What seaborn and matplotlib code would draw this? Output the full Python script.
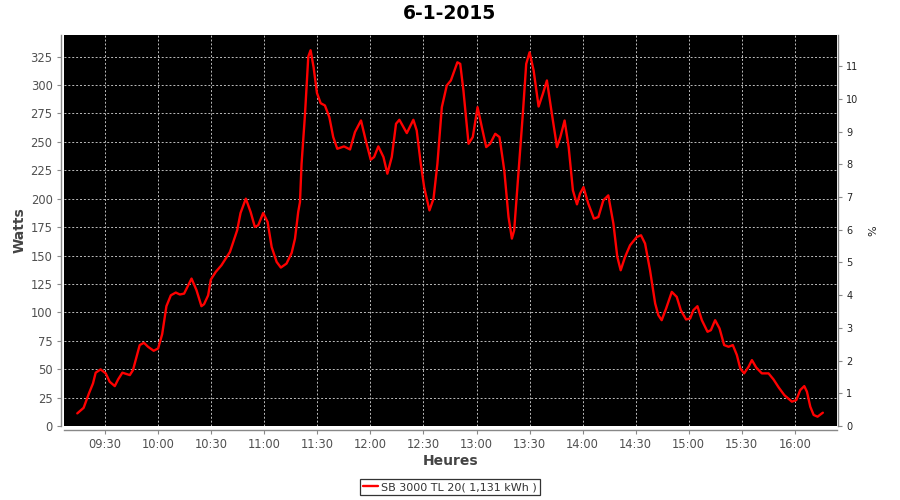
import matplotlib
matplotlib.use("Agg")
import matplotlib.pyplot as plt
import seaborn as sns
import pandas as pd

# ---- data ----
title = "6-1-2015"
series_name = "SB 3000 TL 20( 1,131 kWh )"
# minutes after 09:30
minutes = [-15.7, -12.1, -9.1, -6.8, -5.3, -2.5, 0.4, 2.6, 5.5, 7.4, 9.8, 14, 15.8, 19.6, 22, 24.3, 27.5, 30,
           32.3, 34.7, 37.2, 40, 42.3, 44.7, 48.9, 51.7, 54.5, 56, 58.3, 59.8, 62.6, 65.8, 70.6, 74.7, 76.6,
           79.6, 82.3, 84.7, 86.6, 89.4, 91.9, 94.2, 97, 99.4, 102.6, 105.5, 107.4, 109.2, 110.2, 111.1, 113,
           114.9, 116.2, 117.9, 119.8, 121.9, 124.3, 126.8, 129, 131.3, 135.1, 138.5, 141.3, 144.7, 147.4,
           150.2, 152.1, 154.5, 157.4, 159.6, 162.1, 164.5, 166.4, 170.6, 174.3, 176.2, 178.5, 180.4, 183.4,
           185.7, 187.9, 190.4, 193.2, 195.5, 199.2, 200.8, 202.6, 205.5, 207.9, 210.6, 213, 215.5, 217.7,
           220.6, 223, 225.7, 228.1, 230, 231.3, 233.8, 236.2, 238.1, 240, 242.3, 245.1, 247.5, 249.8, 252.6,
           255.5, 257.4, 259.8, 262.1, 264.5, 266.8, 268.5, 270.5, 273.2, 276.4, 278.9, 281.7, 284.5, 287.4,
           289.6, 291.5, 294, 296.8, 300.6, 303, 305.3, 308.1, 311, 312.8, 314.7, 317.2, 320.4, 323.2, 325.5,
           328.5, 330.8, 332.6, 334.9, 337.4, 340.6, 342.5, 344.9, 347.4, 350, 352.5, 354.9, 357.2, 359.1,
           361.3, 363.8, 365.7, 368.1, 371.3, 375.1, 377.9, 380.8, 384, 388.3, 390.8, 393, 395.3, 396.8,
           398.7, 400.6, 402.8, 405.8]
watts = [11.1, 16, 28.7, 37.5, 46.9, 49.8, 46.3, 39, 35.1, 41, 46.9, 44.8, 49.2, 71.2, 73.2, 69.7, 66.2, 68.2,
         80.8, 105.4, 115, 117.4, 115.7, 116.5, 129.7, 119.5, 105.4, 107.2, 115, 128.8, 135.6, 141.4, 153.1,
         172.2, 187.4, 200, 188.3, 175.1, 176.6, 187.4, 179.5, 157.5, 144.4, 139.4, 142.9, 152.3, 164.9, 188.3,
         197, 230.7, 273, 325, 330.6, 315.7, 293, 284, 282, 271.7, 254.2, 243.9, 246, 243.3, 258.6, 268.8,
         251.2, 234.3, 236.6, 246, 236.6, 222, 236.6, 265.9, 269.4, 257.7, 269.4, 260, 230.7, 210.2, 189.7,
         200, 230.7, 280.5, 299.6, 304, 320, 318.6, 295.2, 248.3, 254.2, 280.5, 263, 245.4, 248.3, 257.1,
         254.2, 224.9, 183.9, 164.9, 172.2, 224.9, 274.7, 318.6, 328.8, 312.7, 281.1, 292.2, 304, 274.7,
         245.4, 254.2, 268.8, 245.4, 207.3, 195, 204.4, 210.2, 195.6, 182.4, 183.9, 198.5, 202.9, 178, 148.8,
         137, 148.8, 159, 166.3, 167.8, 160.5, 137, 107.8, 97.5, 93.1, 103.4, 118, 113.6, 101.9, 93.7, 94.6,
         101.9, 105.4, 93.1, 82.9, 84.3, 93.1, 85.8, 71.2, 69.7, 71.2, 62.4, 50.7, 46.3, 52.1, 58, 51.5, 46.3,
         46.3, 41, 34, 27.2, 21.4, 22.8, 31.6, 35.1, 30.2, 17, 9.7, 8.2, 11.7]
x_tick_labels = ["09:30", "10:00", "10:30", "11:00", "11:30", "12:00", "12:30",
                 "13:00", "13:30", "14:00", "14:30", "15:00", "15:30", "16:00"]
y_ticks = [0, 25, 50, 75, 100, 125, 150, 175, 200, 225, 250, 275, 300, 325]
pct_ticks = list(range(0, 12))

df = pd.DataFrame({"t": minutes, "w": watts})

sns.set_style("ticks")
plt.rcParams["font.family"] = ["DejaVu Sans"]

fig = plt.figure(figsize=(9, 5), dpi=100)
ax = fig.add_axes([64 / 900, 74 / 500, (837 - 64) / 900, (426 - 35) / 500])
ax.set_facecolor("black")

sns.lineplot(data=df, x="t", y="w", ax=ax, color="#ff0000", linewidth=1.7,
             label=series_name, legend=False, sort=False)

def to_off(lbl):
    h, m = lbl.split(":")
    return int(h) * 60 + int(m) - 570

ax.set_xlim(-23.2, 413.8)
ax.set_ylim(0, 344)
ax.set_xticks([to_off(l) for l in x_tick_labels])
ax.set_xticklabels(x_tick_labels)
ax.set_yticks(y_ticks)

grid_kw = dict(color="#bdbdbd", linestyle=(0, (2, 2)), linewidth=0.7)
ax.grid(True, **grid_kw)

tick_col = "#505050"
spine_col = "#888888"
for s in ["top", "right"]:
    ax.spines[s].set_visible(False)
ax.spines["left"].set_position(("outward", 2.2))
ax.spines["bottom"].set_position(("outward", 2.8))
for s in ["left", "bottom"]:
    ax.spines[s].set_color(spine_col)
    ax.spines[s].set_linewidth(1.0)
ax.tick_params(axis="both", colors=spine_col, labelcolor=tick_col, labelsize=8.3,
               length=3, width=0.8, direction="out", pad=3)

ax.set_xlabel("Heures", fontsize=10, fontweight="bold", color="#444444", labelpad=2)
ax.set_ylabel("Watts", fontsize=10, fontweight="bold", color="#444444", labelpad=3)

ax2 = ax.twinx()
ax2.set_ylim(0, 11.95)
ax2.set_yticks(pct_ticks)
for s in ["top", "left", "bottom"]:
    ax2.spines[s].set_visible(False)
ax2.spines["right"].set_color(spine_col)
ax2.spines["right"].set_linewidth(1.0)
ax2.spines["right"].set_position(("outward", 0.8))
ax2.tick_params(axis="y", colors=spine_col, labelcolor="#222222", labelsize=7,
                length=3, width=0.8, direction="out", pad=3)
ax2.set_ylabel("%", fontsize=8, color="#222222", labelpad=7)

fig.suptitle(title, fontsize=13.5, fontweight="bold", color="black", y=0.992)

handles, labels = ax.get_legend_handles_labels()
leg = fig.legend(handles, labels, loc="center", bbox_to_anchor=(450 / 900, 1 - 487 / 500),
                 fontsize=8, frameon=True, fancybox=False, borderpad=0.3,
                 handlelength=1.3, handletextpad=0.3, labelcolor="#333333")
leg.get_frame().set_edgecolor("black")
leg.get_frame().set_linewidth(0.9)

fig.savefig("out.png", dpi=100, facecolor="white")
